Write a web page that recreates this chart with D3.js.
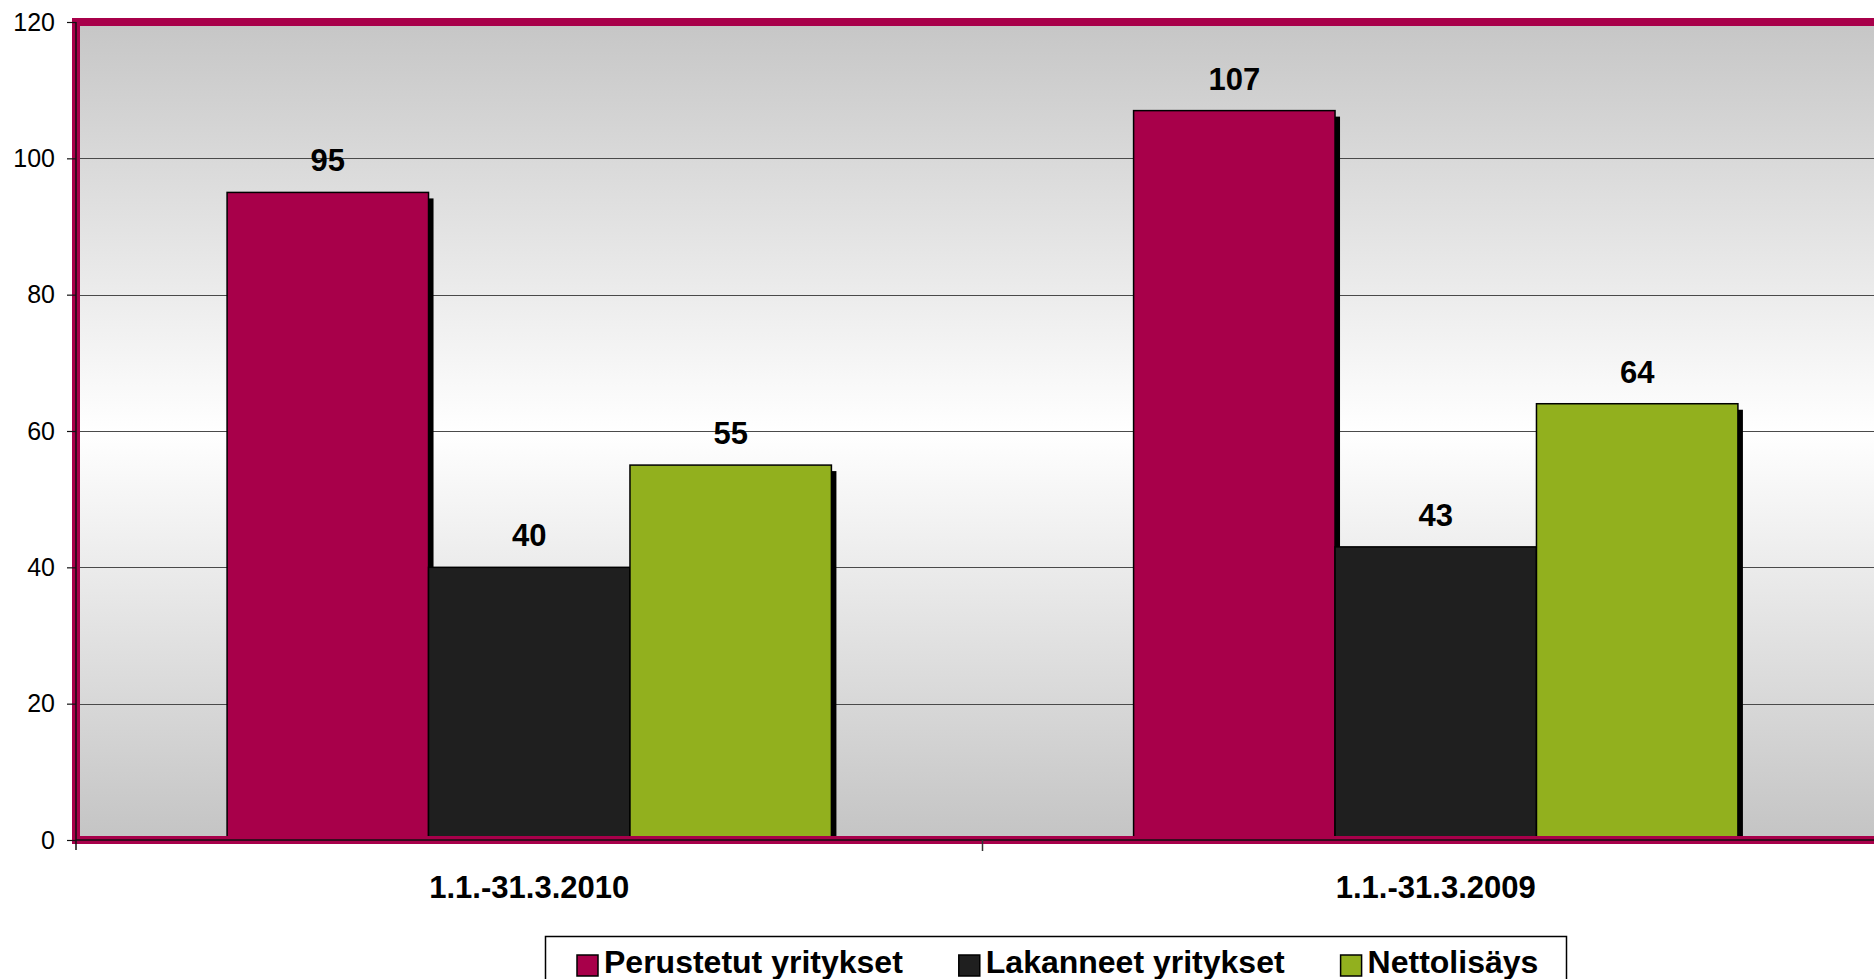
<!DOCTYPE html>
<html>
<head>
<meta charset="utf-8">
<script src="https://cdn.jsdelivr.net/npm/d3@7"></script>
<style>
  html, body { margin: 0; padding: 0; background: #ffffff; }
  svg { display: block; font-family: "Liberation Sans", Arial, sans-serif; }
</style>
</head>
<body>
<svg id="chart" width="1874" height="979"></svg>
<script>
const categories = ["1.1.-31.3.2010", "1.1.-31.3.2009"];
const seriesNames = ["Perustetut yritykset", "Lakanneet yritykset", "Nettolisäys"];
const perustetut = [95, 107];
const lakanneet = [40, 43];
const nettolisays = [55, 64];
const yTicks = [0, 20, 40, 60, 80, 100, 120];
const seriesColors = ["#A8004A", "#1F1F1F", "#92B01E"];

const seriesValues = [perustetut, lakanneet, nettolisays];

const svg = d3.select("#chart");

const plotLeft = 76, plotTop = 22, plotBottom = 840;
const plotRight = 1889; // plot area continues past the visible edge

const x0 = d3.scaleBand().domain(categories).range([plotLeft, plotRight]).paddingInner(0).paddingOuter(0);
const bw = x0.bandwidth();
const barW = bw / 4.5;
const x1 = d3.scaleBand().domain(seriesNames).range([barW * 0.75, barW * 3.75]).padding(0);
const y = d3.scaleLinear().domain([0, 120]).range([plotBottom, plotTop]);

// background gradient
const defs = svg.append("defs");
const grad = defs.append("linearGradient").attr("id", "bg").attr("x1", 0).attr("y1", 0).attr("x2", 0).attr("y2", 1);
grad.append("stop").attr("offset", "0%").attr("stop-color", "#c6c6c6");
grad.append("stop").attr("offset", "50%").attr("stop-color", "#ffffff");
grad.append("stop").attr("offset", "100%").attr("stop-color", "#c4c4c4");

defs.append("clipPath").attr("id", "plotclip").append("rect")
  .attr("x", plotLeft).attr("y", plotTop).attr("width", plotRight - plotLeft).attr("height", plotBottom - plotTop);

svg.append("rect")
  .attr("x", plotLeft).attr("y", plotTop)
  .attr("width", plotRight - plotLeft).attr("height", plotBottom - plotTop)
  .attr("fill", "url(#bg)");

// gridlines
svg.append("g").selectAll("line").data(yTicks.filter(d => d > 0 && d < 120)).join("line")
  .attr("x1", plotLeft).attr("x2", plotRight)
  .attr("y1", d => Math.round(y(d)) + 0.5).attr("y2", d => Math.round(y(d)) + 0.5)
  .attr("stroke", "#4a4a4a").attr("stroke-width", 1);

// bars with shadows
const rows = [];
categories.forEach((c, ci) => {
  seriesNames.forEach((s, si) => {
    rows.push({ cat: c, series: s, si, value: seriesValues[si][ci] });
  });
});

const barsG = svg.append("g").attr("clip-path", "url(#plotclip)");
rows.forEach(d => {
  const bx = x0(d.cat) + x1(d.series);
  const by = y(d.value);
  barsG.append("rect")
    .attr("x", bx + 5).attr("y", by + 6)
    .attr("width", x1.bandwidth()).attr("height", Math.max(0, plotBottom - by - 6))
    .attr("fill", "#000");
  barsG.append("rect")
    .attr("x", bx).attr("y", by)
    .attr("width", x1.bandwidth()).attr("height", plotBottom - by)
    .attr("fill", seriesColors[d.si])
    .attr("stroke", "#000").attr("stroke-width", 1.5);
});

// frame
svg.append("rect")
  .attr("x", plotLeft).attr("y", plotTop)
  .attr("width", plotRight - plotLeft + 20).attr("height", plotBottom - plotTop)
  .attr("fill", "none").attr("stroke", "#A8004A").attr("stroke-width", 8);

// axis lines
svg.append("line").attr("x1", plotLeft).attr("x2", plotLeft).attr("y1", plotTop).attr("y2", plotBottom + 10)
  .attr("stroke", "#111").attr("stroke-width", 1.5);
svg.append("line").attr("x1", plotLeft).attr("x2", plotRight + 20).attr("y1", plotBottom).attr("y2", plotBottom)
  .attr("stroke", "#111").attr("stroke-width", 1.5);

// y axis
const yAxis = d3.axisLeft(y).tickValues(yTicks).tickSize(9).tickPadding(12).tickFormat(d3.format("d"));
const yg = svg.append("g").attr("transform", `translate(${plotLeft},0)`).call(yAxis);
yg.select(".domain").remove();
yg.selectAll(".tick line").attr("stroke", "#111").attr("stroke-width", 1.2);
yg.selectAll(".tick text").attr("font-size", 25).attr("fill", "#000")
  .attr("font-family", "'Liberation Sans', Arial, sans-serif");

// x axis category ticks (boundaries)
svg.append("g").selectAll("line").data(categories.slice(1)).join("line")
  .attr("x1", d => x0(d)).attr("x2", d => x0(d))
  .attr("y1", plotBottom).attr("y2", plotBottom + 11)
  .attr("stroke", "#333").attr("stroke-width", 1.5);

// category labels
svg.append("g").selectAll("text").data(categories).join("text")
  .attr("x", d => x0(d) + bw / 2).attr("y", 898)
  .attr("text-anchor", "middle")
  .attr("font-size", 31).attr("font-weight", "bold").attr("fill", "#000")
  .text(d => d);

// data labels
svg.append("g").selectAll("text").data(rows).join("text")
  .attr("x", d => x0(d.cat) + x1(d.series) + x1.bandwidth() / 2)
  .attr("y", d => y(d.value) - 21)
  .attr("text-anchor", "middle")
  .attr("font-size", 31).attr("font-weight", "bold").attr("fill", "#000")
  .text(d => d.value);

// legend
const lg = svg.append("g");
lg.append("rect").attr("x", 545.5).attr("y", 936.5).attr("width", 1021).attr("height", 70)
  .attr("fill", "#fff").attr("stroke", "#000").attr("stroke-width", 1.5);
let lx = 577;
seriesNames.forEach((s, i) => {
  lg.append("rect").attr("x", lx).attr("y", 955).attr("width", 21).attr("height", 21)
    .attr("fill", seriesColors[i]).attr("stroke", "#000").attr("stroke-width", 1.5);
  const t = lg.append("text").attr("x", lx + 27).attr("y", 973)
    .attr("font-size", 32).attr("font-weight", "bold").attr("fill", "#000").text(s);
  const w = t.node().getComputedTextLength();
  lx = lx + 27 + w + 56;
});
</script>
</body>
</html>
